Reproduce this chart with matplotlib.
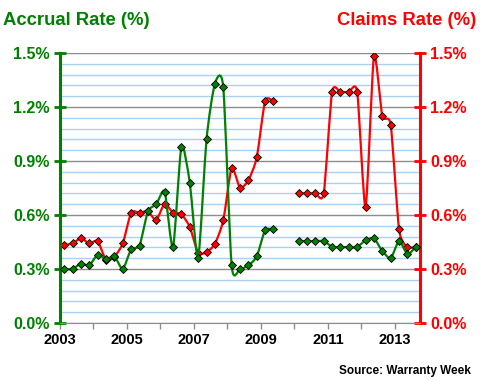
import numpy as np
import matplotlib
matplotlib.use("Agg")
import matplotlib.pyplot as plt
from matplotlib.path import Path
from matplotlib.patches import PathPatch
from matplotlib.ticker import FuncFormatter, MultipleLocator

plt.rcParams['font.family'] = ['Liberation Sans', 'DejaVu Sans']

# quarterly values, 2003 Q1 .. 2013 Q3 (None = no data)
first_year = 2003
accrual = [0.30, 0.30, 0.33, 0.32,
           0.38, 0.355, 0.37, 0.30,
           0.41, 0.43, 0.62, 0.66,
           0.73, 0.42, 0.98, 0.78,
           0.36, 1.02, 1.33, 1.31,
           0.32, 0.30, 0.32, 0.37,
           0.515, 0.52, None, None,
           0.455, 0.455, 0.455, 0.455,
           0.424, 0.422, 0.422, 0.422,
           0.46, 0.47, 0.40, 0.36,
           0.455, 0.383, 0.422]
claims = [0.432, 0.443, 0.47, 0.443,
          0.455, 0.35, 0.368, 0.443,
          0.613, 0.613, 0.62, 0.572,
          0.663, 0.613, 0.605, 0.533,
          0.39, 0.393, 0.44, 0.57,
          0.86, 0.752, 0.793, 0.92,
          1.233, 1.233, None, None,
          0.72, 0.72, 0.72, 0.72,
          1.283, 1.283, 1.283, 1.283,
          0.643, 1.483, 1.15, 1.10,
          0.52, 0.422, 0.422]
year_ticks = list(range(2003, 2014))

GREEN = '#008000'
RED = '#ff0000'
GRAY = '#8c8c8c'
LIGHT = '#a9d0f5'

xq = first_year + (np.arange(len(accrual)) + 0.5) / 4


def runs(x, y):
    out, cur = [], []
    for xi, yi in zip(x, y):
        if yi is None:
            if cur:
                out.append(cur)
            cur = []
        else:
            cur.append((xi, yi))
    if cur:
        out.append(cur)
    return out


def smooth_line(ax, x, y, color, k=1 / 9):
    # smoothed line like the spreadsheet one: bezier pieces through the points
    for r in runs(x, y):
        p = np.array(r, dtype=float)
        verts, codes = [p[0]], [Path.MOVETO]
        n = len(p)
        for i in range(n - 1):
            p0 = p[i - 1] if i > 0 else p[i]
            p3 = p[i + 2] if i + 2 < n else p[i + 1]
            c1 = p[i] + (p[i + 1] - p0) * k
            c2 = p[i + 1] - (p3 - p[i]) * k
            verts += [c1, c2, p[i + 1]]
            codes += [Path.CURVE4] * 3
        ax.add_patch(PathPatch(Path(verts, codes), fill=False, ec=color,
                               lw=1.6, zorder=3, capstyle='round'))
        ax.plot(p[:, 0], p[:, 1], ls='none', marker='D', ms=4.2,
                mfc=color, mec='black', mew=0.6, zorder=4)


fig = plt.figure(figsize=(4.8, 3.8), dpi=100)
ax1 = fig.add_axes([0.125, 0.15, 0.75, 0.7105])
ax2 = ax1.twinx()
ax1.set_zorder(ax2.get_zorder() + 1)
ax1.patch.set_visible(False)

pct = FuncFormatter(lambda v, pos: "%.1f%%" % v)
for ax in (ax1, ax2):
    ax.set_xlim(2003, 2013.75)
    ax.set_ylim(0, 1.5)
    ax.yaxis.set_major_locator(MultipleLocator(0.3))
    ax.yaxis.set_minor_locator(MultipleLocator(0.06))
    ax.yaxis.set_major_formatter(pct)
    ax.tick_params(axis='y', which='minor', length=0)
    ax.spines['top'].set_visible(False)

# grid lives on the back axes
ax2.grid(True, axis='y', which='minor', color=LIGHT, lw=1.0, zorder=0)
ax2.grid(True, axis='y', which='major', color=GRAY, lw=1.0, zorder=1)
ax2.grid(True, axis='x', which='major', color=GRAY, lw=1.0, zorder=1)
ax2.set_axisbelow(True)

smooth_line(ax2, xq, claims, RED)
smooth_line(ax1, xq, accrual, GREEN)

ax1.set_xticks(year_ticks)
ax1.set_xticklabels([str(y) if y % 2 == 1 else '' for y in year_ticks])
ax1.tick_params(axis='x', direction='out', length=4, width=1, color=GRAY,
                pad=3, labelsize=10.5)
for lab in ax1.get_xticklabels():
    lab.set_fontweight('bold')

ax1.spines['left'].set_color(GREEN)
ax1.spines['left'].set_linewidth(2.2)
ax1.spines['right'].set_visible(False)
ax1.spines['bottom'].set_color(GRAY)
ax1.tick_params(axis='y', which='major', direction='inout', length=8.5,
                width=2, color=GREEN, labelcolor=GREEN, labelsize=11.5, pad=3)
for lab in ax1.get_yticklabels():
    lab.set_fontweight('bold')

ax2.spines['right'].set_color(RED)
ax2.spines['right'].set_linewidth(2.2)
ax2.spines['left'].set_visible(False)
ax2.spines['bottom'].set_visible(False)
ax2.tick_params(axis='y', which='major', direction='inout', length=8.5,
                width=2, color=RED, labelcolor=RED, labelsize=11.5, pad=3)
ax2.tick_params(axis='x', length=0, labelbottom=False)
for lab in ax2.get_yticklabels():
    lab.set_fontweight('bold')

fig.text(0.006, 0.947, 'Accrual Rate (%)', color=GREEN, fontsize=13.3,
         fontweight='bold', ha='left', va='center')
fig.text(0.992, 0.947, 'Claims Rate (%)', color=RED, fontsize=13.3,
         fontweight='bold', ha='right', va='center')
fig.text(0.98, 0.024, 'Source: Warranty Week', color='black', fontsize=8.5,
         fontweight='bold', ha='right', va='center')

fig.savefig('out.png', dpi=100)
